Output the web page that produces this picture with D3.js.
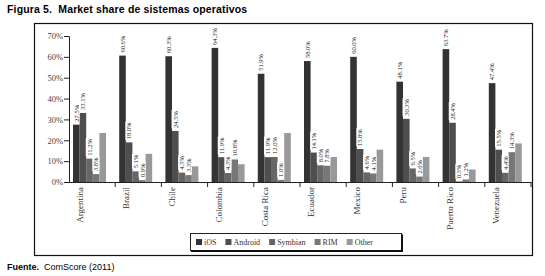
<!DOCTYPE html>
<html>
<head>
<meta charset="utf-8">
<script src="https://cdn.jsdelivr.net/npm/d3@7"></script>
<style>
  body { margin: 0; background: #fff; }
  svg { display: block; }
</style>
</head>
<body>
<svg id="chart" width="545" height="276"></svg>
<script>
// data
const countries = ["Argentina", "Brazil", "Chile", "Colombia", "Costa Rica", "Ecuador", "Mexico", "Peru", "Puerto Rico", "Venezuela"];
const systems = ["iOS", "Android", "Symbian", "RIM", "Other"];
const ios = [27.5, 60.6, 60.3, 64.3, 51.9, 58.0, 60.0, 48.1, 63.7, 47.4];
const android = [33.1, 19.0, 24.5, 11.9, 11.9, 14.1, 15.8, 30.3, 28.4, 15.5];
const symbian = [11.2, 5.1, 4.5, 4.3, 12.0, 8.0, 4.6, 6.5, 0.3, 4.4];
const rim = [3.8, 0.9, 3.3, 10.8, 1.0, 7.8, 4.1, 2.6, 1.2, 14.3];
const other = [23.5, 13.5, 7.5, 8.5, 23.5, 12.0, 15.5, 12.0, 6.0, 18.5];
const yTicks = [0, 10, 20, 30, 40, 50, 60, 70];
const colors = ["#333333", "#4e4e4e", "#666666", "#777777", "#999999"];
const labelled = [true, true, true, true, false]; // "Other" has no value labels

const series = [ios, android, symbian, rim, other];

const svg = d3.select("#chart");
const serif = "'Liberation Serif', 'DejaVu Serif', serif";
const sans = "'Liberation Sans', Arial, sans-serif";

// title
svg.append("text")
    .attr("x", 7).attr("y", 13)
    .attr("font-family", sans).attr("font-size", 10.5).attr("font-weight", "bold")
    .attr("letter-spacing", 0.15)
    .text("Figura 5.  Market share de sistemas operativos")
    .style("white-space", "pre");

// outer frame
svg.append("rect")
    .attr("x", 34.5).attr("y", 23.5).attr("width", 498).attr("height", 232)
    .attr("fill", "none").attr("stroke", "#111").attr("stroke-width", 1.2);

const x = d3.scaleBand().domain(countries).range([69, 531]);
const xs = d3.scaleBand().domain(systems).range([4, 37]);
const y = d3.scaleLinear().domain([0, 70]).range([182, 36]);

// y axis
const yAxis = svg.append("g")
    .attr("transform", "translate(69,0)")
    .call(d3.axisLeft(y).tickValues(yTicks).tickFormat(d => d + "%").tickSize(5));
yAxis.select(".domain").attr("stroke", "#222");
yAxis.selectAll(".tick line").attr("stroke", "#222");
yAxis.selectAll("text")
    .attr("font-family", serif).attr("font-size", 8.5).attr("fill", "#444").attr("x", -6);

// bars
const groups = svg.append("g").selectAll("g")
    .data(countries)
    .join("g")
    .attr("transform", d => `translate(${x(d)},0)`);

groups.selectAll("rect")
    .data((c, i) => systems.map((s, j) => ({ s, j, v: series[j][i] })))
    .join("rect")
    .attr("x", d => xs(d.s))
    .attr("width", xs.bandwidth())
    .attr("y", d => y(d.v))
    .attr("height", d => y(0) - y(d.v))
    .attr("fill", d => colors[d.j]);

// value labels, rotated with a white box
const labels = groups.selectAll("g.lbl")
    .data((c, i) => systems.map((s, j) => ({ s, j, v: series[j][i] })).filter(d => labelled[d.j]))
    .join("g")
    .attr("class", "lbl")
    .attr("transform", d => `translate(${xs(d.s) + xs.bandwidth() / 2},${y(d.v) - 3}) rotate(-90)`);

labels.append("rect")
    .attr("fill", "#fff");
labels.append("text")
    .attr("font-family", serif).attr("font-size", 6.5).attr("fill", "#222")
    .attr("dy", "0.35em")
    .text(d => d.v.toFixed(1) + "%");
labels.each(function () {
    const b = d3.select(this).select("text").node().getBBox();
    d3.select(this).select("rect")
        .attr("x", b.x - 0.5).attr("y", b.y).attr("width", b.width + 1).attr("height", b.height);
});

// x axis line + group ticks
const xAxis = svg.append("g")
    .attr("transform", "translate(0,182)")
    .call(d3.axisBottom(x).tickSize(0).tickFormat(""));
xAxis.select(".domain").attr("stroke", "#222");
svg.append("g").selectAll("line")
    .data(countries.map(c => x(c)).slice(1).concat([531]))
    .join("line")
    .attr("x1", d => d).attr("x2", d => d)
    .attr("y1", 182).attr("y2", 187)
    .attr("stroke", "#222");

// category labels
svg.append("g").selectAll("text")
    .data(countries)
    .join("text")
    .attr("transform", d => `translate(${x(d) + 14},187) rotate(-90)`)
    .attr("text-anchor", "end")
    .attr("font-family", serif).attr("font-size", 9).attr("fill", "#333")
    .text(d => d);

// legend
const legend = svg.append("g");
legend.append("rect")
    .attr("x", 190.5).attr("y", 233.5).attr("width", 211).attr("height", 17)
    .attr("fill", "#fff").attr("stroke", "#222");
legend.append("path")
    .attr("d", "M402,234.5 V251 H191")
    .attr("fill", "none").attr("stroke", "#111").attr("stroke-width", 2);
let lx = 196;
systems.forEach((s, i) => {
    const item = legend.append("g").attr("transform", `translate(${lx},239)`);
    item.append("rect")
        .attr("width", 6).attr("height", 6)
        .attr("fill", colors[i]);
    const t = item.append("text")
        .attr("x", 8).attr("y", 6)
        .attr("font-family", serif).attr("font-size", 8).attr("fill", "#333")
        .text(s);
    lx += 8 + t.node().getComputedTextLength() + 9;
});

// source
const src = svg.append("text")
    .attr("x", 7).attr("y", 270)
    .attr("font-family", sans).attr("font-size", 9)
    .style("white-space", "pre");
src.append("tspan").attr("font-weight", "bold").text("Fuente.");
src.append("tspan").text("  ComScore (2011)");
</script>
</body>
</html>
